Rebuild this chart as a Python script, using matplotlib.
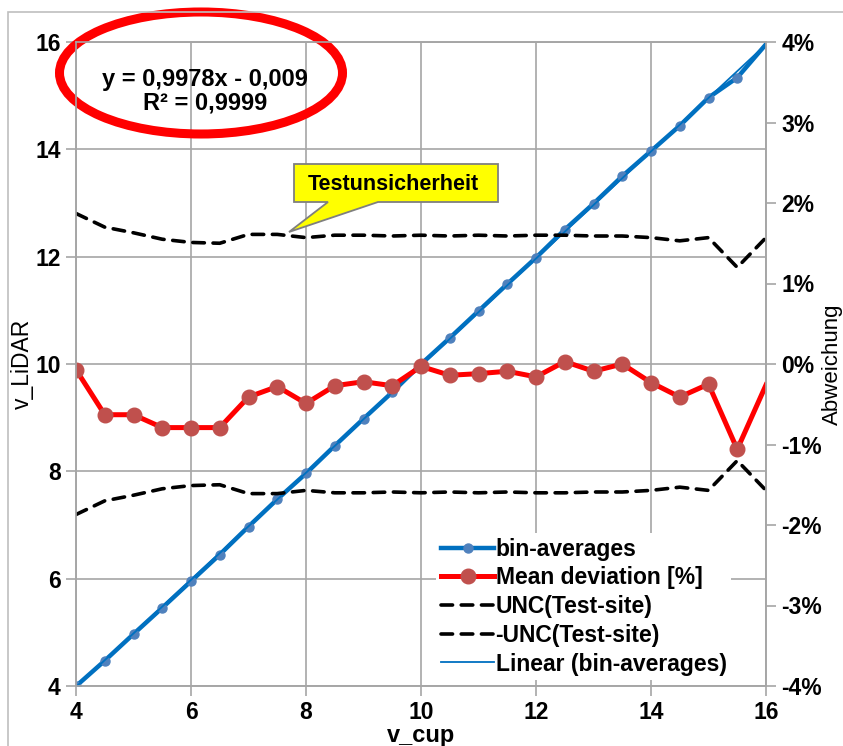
import numpy as np
import matplotlib.pyplot as plt
from matplotlib.patches import Ellipse, Polygon, Rectangle
from matplotlib.lines import Line2D

plt.rcParams['font.family'] = ['Liberation Sans', 'DejaVu Sans']

# bin-Mittelwerte (Cup vs. LiDAR)
v_cup = [4.0, 4.5, 5.0, 5.5, 6.0, 6.5, 7.0, 7.5, 8.0, 8.5, 9.0, 9.5, 10.0,
         10.5, 11.0, 11.5, 12.0, 12.5, 13.0, 13.5, 14.0, 14.5, 15.0, 15.5, 16.0]
v_lidar = [3.997, 4.472, 4.968, 5.457, 5.953, 6.449, 6.971, 7.479, 7.961, 8.477,
           8.980, 9.474, 9.997, 10.485, 10.987, 11.490, 11.981, 12.504, 12.988,
           13.500, 13.968, 14.441, 14.963, 15.336, 15.958]
mean_dev = [-0.07, -0.63, -0.63, -0.79, -0.79, -0.79, -0.41, -0.28, -0.49, -0.27,
            -0.22, -0.27, -0.03, -0.14, -0.12, -0.09, -0.16, 0.03, -0.09, 0.00,
            -0.23, -0.41, -0.25, -1.06, -0.26]
unc = [1.87, 1.70, 1.63, 1.55, 1.51, 1.50, 1.61, 1.61, 1.57, 1.60, 1.60, 1.59, 1.60,
       1.59, 1.60, 1.59, 1.60, 1.60, 1.59, 1.59, 1.57, 1.53, 1.57, 1.20, 1.57]
neg_unc = [-u for u in unc]

# Trendlinie laut Diagramm
slope, intercept = 0.9978, -0.009
x_ticks = [4, 6, 8, 10, 12, 14, 16]
y_ticks = [4, 6, 8, 10, 12, 14, 16]
pct_ticks = [-4, -3, -2, -1, 0, 1, 2, 3, 4]

W, H = 843, 746
fig = plt.figure(figsize=(W / 100, H / 100), dpi=100)
ax = fig.add_axes([76 / W, 60 / H, 690 / W, 644 / H])
ax2 = ax.twinx()

grid_c = '#a6a6a6'
blue = '#0070c0'
red = '#ff0000'

# Rahmen um das ganze Diagramm
fig.patches.append(Rectangle((8 / W, -0.05), 1.0, 1.05 - 12 / H, transform=fig.transFigure,
                             fill=False, ec='#bfbfbf', lw=1.2))

ax.set_xlim(4, 16)
ax.set_ylim(4, 16)
ax.set_xticks(x_ticks)
ax.set_yticks(y_ticks)
ax.grid(True, color=grid_c, lw=1.2)
ax.set_axisbelow(True)

xs = np.array(v_cup)
ax.plot(xs, v_lidar, color=blue, lw=3.2, marker='o', ms=6.5, mfc='#4f81bd',
        mec='#4f81bd', markevery=list(range(len(xs) - 1)), clip_on=True, zorder=3)
xl = np.array([4, 16])
ax.plot(xl, slope * xl + intercept, color=blue, lw=1.3, zorder=4)

ax2.set_ylim(-4, 4)
ax2.set_yticks(pct_ticks)
ax2.set_yticklabels([f'{t}%' for t in pct_ticks])
dash = (0, (3.2, 2.4))
ax2.plot(v_cup, unc, color='black', lw=2.6, ls=dash, dash_capstyle='round')
ax2.plot(v_cup, neg_unc, color='black', lw=2.6, ls=dash, dash_capstyle='round')
ax2.plot(v_cup, mean_dev, color=red, lw=3.6, marker='o', ms=10.5, mfc='#c0504d',
         mec='#c0504d', markevery=list(range(len(v_cup) - 1)))

for a in (ax, ax2):
    for s in a.spines.values():
        s.set_color(grid_c)
        s.set_linewidth(1.2)
    a.tick_params(colors=grid_c, labelcolor='black', length=7, width=1.2,
                  labelsize=16.5)
    for lab in a.get_xticklabels() + a.get_yticklabels():
        lab.set_fontweight('bold')
ax.tick_params(axis='y', pad=4)
ax.tick_params(axis='x', pad=4)
ax2.tick_params(axis='y', pad=4)

ax.set_xlabel('v_cup', fontsize=17, fontweight='bold', labelpad=0)
ax.set_ylabel('v_LiDAR', fontsize=16.5, labelpad=1)
ax2.set_ylabel('Abweichung', fontsize=16, labelpad=0)

# Gleichung + roter Kreis
ax.text((205 - 76) / 690, (686 - 91) / 644, 'y = 0,9978x - 0,009\nR² = 0,9999',
        transform=ax.transAxes, ha='center', va='center', fontsize=17,
        fontweight='bold', linespacing=1.05, zorder=6)
ax.add_patch(Ellipse(((201 - 76) / 690, (686 - 73) / 644), 283 / 690, 122 / 644,
                     transform=ax.transAxes, fill=False, ec='#ff0000', lw=6.5,
                     clip_on=False, zorder=6))

# Sprechblase "Testunsicherheit"
def axf(px, py):
    return ((px - 76) / 690, (686 - py) / 644)

callout = [axf(294, 164), axf(498, 164), axf(498, 202), axf(378, 202),
           axf(289, 232), axf(328, 202), axf(294, 202)]
ax2.add_patch(Polygon(callout, closed=True, transform=ax2.transAxes, fc='#ffff00',
                      ec='#7f7f7f', lw=1.3, zorder=7))
ax2.text(*axf(393, 185), 'Testunsicherheit', transform=ax2.transAxes, ha='center',
         va='center', fontsize=15.5, fontweight='bold', zorder=8)

handles = [
    Line2D([], [], color=blue, lw=3.2, marker='o', ms=6.5, mfc='#4f81bd', mec='#4f81bd'),
    Line2D([], [], color=red, lw=3.6, marker='o', ms=10.5, mfc='#c0504d', mec='#c0504d'),
    Line2D([], [], color='black', lw=2.6, ls=dash, dash_capstyle='round'),
    Line2D([], [], color='black', lw=2.6, ls=dash, dash_capstyle='round'),
    Line2D([], [], color=blue, lw=1.3),
]
labels = ['bin-averages', 'Mean deviation [%]', 'UNC(Test-site)', '-UNC(Test-site)',
          'Linear (bin-averages)']
leg = ax2.legend(handles, labels, loc='upper left', bbox_to_anchor=axf(436, 533),
                 frameon=True, facecolor='white', edgecolor='none', framealpha=1,
                 fancybox=False, borderpad=0.2, handlelength=2.35, handletextpad=0.05,
                 labelspacing=0.25, borderaxespad=0,
                 prop={'size': 16.5, 'weight': 'bold'})
leg.set_zorder(9)

fig.savefig('out.png', dpi=100)
